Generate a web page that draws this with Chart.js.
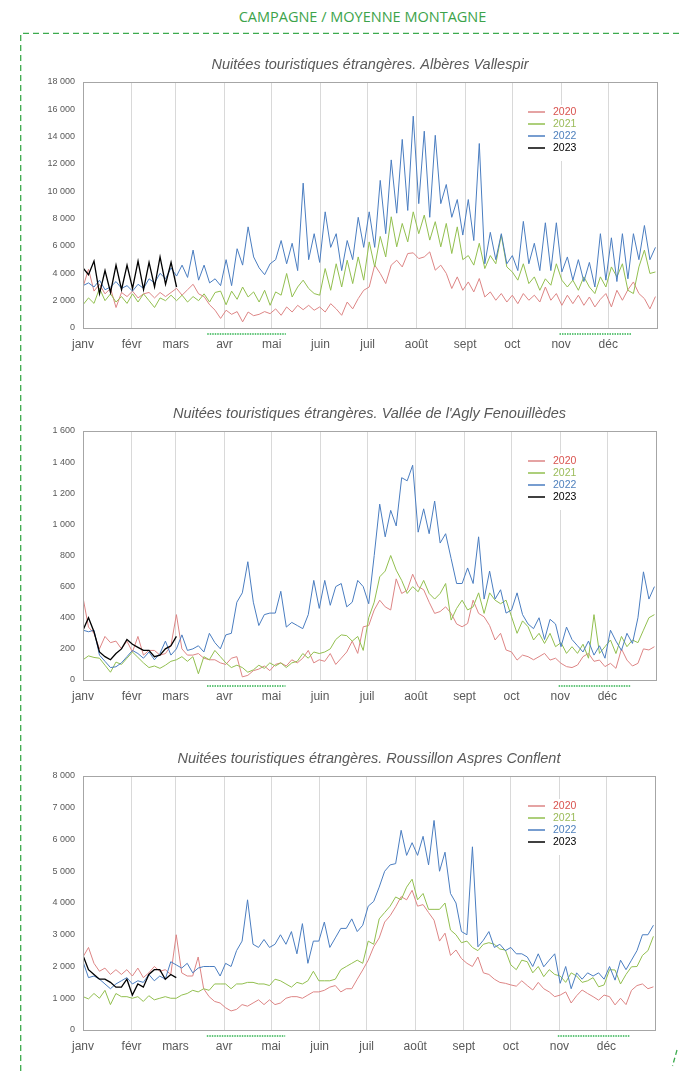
<!DOCTYPE html>
<html>
<head>
<meta charset="utf-8">
<script src="https://cdn.jsdelivr.net/npm/chart.js"></script>
<style>
  body { margin: 0; background: #fff; }
  #page { position: relative; width: 679px; height: 1071px; overflow: hidden; }
  #page canvas { position: absolute; left: 0; }
  #page svg { position: absolute; left: 0; top: 0; }
  #header { position: absolute; top: 7px; left: 0; width: 725px; text-align: center;
            font: 14.5px/20px "Open Sans", sans-serif; color: #3ca34a; }
</style>
</head>
<body>
<div id="page">
  <svg width="679" height="1071">
    <path d="M20.7 1071 V33.3 H679" fill="none" stroke="#3cab4e" stroke-width="1.3" stroke-dasharray="6 4"/>
    <path d="M677 1050 L672.5 1066" fill="none" stroke="#3cab4e" stroke-width="1.3" stroke-dasharray="5 3"/>
  </svg>
  <div id="header">CAMPAGNE / MOYENNE MONTAGNE</div>
  <canvas id="c1"></canvas>
  <canvas id="c2"></canvas>
  <canvas id="c3"></canvas>
</div>
<script>
// un point tous les 3,5 jours (jour de l'année)
const days = Array.from({length: 105}, (_, i) => i * 3.5);
const monthStarts = [0, 31, 59, 90, 120, 151, 181, 212, 243, 273, 304, 334];
const monthNames = ['janv', 'févr', 'mars', 'avr', 'mai', 'juin', 'juil', 'août', 'sept', 'oct', 'nov', 'déc'];
const years = ['2020', '2021', '2022', '2023'];
const holidays = [[79, 129], [303, 349]];

const lineColors = ['#dd8585', '#92bf4f', '#4a7dc0', '#000000'];
const textColors = ['#d9534f', '#9bbb59', '#4f81bd', '#000000'];

// Albères Vallespir
const alb2020 = [3000,4300,2700,3200,2500,2900,1500,2600,2300,2700,
  2200,2500,2600,2200,2600,2300,2600,2900,2400,2800,
  3200,2500,2300,1700,1300,700,1300,1000,1200,450,
  1170,900,1000,1200,1050,1400,930,1540,1170,1660,
  1340,1660,1300,1540,1170,1780,1400,930,1900,1400,
  2150,2760,3000,4600,3990,3250,4600,4960,4470,5450,
  5500,5080,5200,5570,4230,4600,4000,2890,3740,2760,
  3370,2640,3620,2270,2640,2030,2520,1900,2400,1780,
  2520,2030,2400,1900,3000,2030,2520,1660,2400,1780,
  2400,1660,2270,1540,2100,2520,1540,2760,2030,2800,
  3370,2520,2150,1400,2300];
const alb2021 = [1700,2200,1800,2900,2000,2500,1900,2300,1800,2500,
  1900,2500,2000,1500,2200,2000,2400,2000,2400,1900,
  2300,2000,2500,1900,2600,2700,1700,2700,2100,3000,
  2270,2640,1900,2760,1660,2640,2400,3990,2270,3000,
  3500,2890,2520,2400,4350,2760,4700,3000,4960,3250,
  5200,3500,6300,4470,6700,5200,8140,5940,7650,6300,
  8500,6900,8260,6430,7780,5940,7650,5450,7400,5000,
  5300,4600,6200,4350,5300,4700,6800,4470,4100,3500,
  4700,3250,3740,2760,3600,3130,4700,3500,3000,3500,
  2760,3740,3000,2520,3740,3000,4470,3740,4700,2760,
  2520,4470,5700,3990,4100];
const alb2022 = [3100,3300,3000,3500,2800,3000,3400,2900,3100,2700,
  3200,2900,3600,3300,4000,3600,4400,3800,4600,3700,
  5700,3500,4600,3300,3600,3100,5000,3100,5800,4600,
  7400,5200,4400,3900,4700,5000,6400,4700,6200,4200,
  10600,5000,6900,4800,8500,5900,6900,4200,6400,5000,
  8100,5900,8500,5900,10800,6900,12300,8400,13800,8600,
  15500,9100,14400,8100,14100,9100,10500,8100,9400,6800,
  9400,6400,13500,4700,7000,5000,6900,4700,5300,4200,
  7800,4700,6200,4200,7700,4200,7700,4100,5200,3500,
  5000,3400,4800,3000,6900,3500,6600,3400,6900,3600,
  6900,5000,7500,5000,5900];
const alb2023 = [4400,3900,4900,2500,4200,2600,4600,2800,4600,2900,4900,2800,4800,3000,5200,3200,4800,3000];

// Vallée de l'Agly Fenouillèdes
const agly2020 = [530,340,300,200,280,240,250,200,250,180,
  280,160,190,190,160,170,220,420,200,160,
  160,170,140,130,130,110,100,140,150,20,
  30,60,70,90,60,100,110,90,130,110,
  140,190,110,130,120,170,100,140,180,250,
  171,342,350,450,513,470,450,650,556,577,
  680,600,580,500,428,440,470,428,360,342,
  363,513,428,406,350,257,300,193,180,128,
  160,150,130,150,171,128,140,107,86,80,
  96,150,171,120,128,86,107,75,200,128,
  90,107,200,193,214];
const agly2021 = [130,155,145,140,95,50,115,100,140,180,
  145,110,80,90,75,95,120,130,150,120,
  150,40,150,130,190,150,110,80,95,80,
  50,65,95,75,110,90,110,80,110,120,
  170,140,180,170,180,200,260,290,285,250,
  280,190,400,500,663,700,800,706,640,556,
  600,567,640,556,520,556,620,385,460,513,
  450,470,560,428,560,513,490,513,406,300,
  380,342,257,300,235,300,214,240,171,214,
  171,230,140,420,171,214,257,170,280,214,
  257,240,320,400,420];
const agly2022 = [320,310,320,160,120,80,85,110,150,190,
  170,140,180,130,170,250,160,200,290,190,
  200,220,180,300,240,200,290,300,500,560,
  760,500,350,420,430,430,570,340,370,350,
  330,420,640,460,640,480,600,620,470,500,
  640,600,490,800,1130,920,1090,990,1300,1280,
  1380,950,1100,940,1150,880,940,780,620,620,
  720,620,920,520,700,520,580,430,450,560,
  420,360,330,400,260,390,360,214,340,260,
  220,180,250,160,220,140,320,250,190,300,
  235,400,695,520,600];
const agly2023 = [320,400,310,180,150,130,170,200,260,230,210,190,190,150,160,200,220,280];

// Roussillon Aspres Conflent
const rou2020 = [2300,2600,2100,1850,1950,1750,1900,1750,1900,1700,
  1950,1650,1800,2000,1850,1900,1750,3000,1800,1700,
  1700,2300,1300,1050,900,850,700,600,650,800,
  750,850,950,800,950,800,850,1000,1050,1050,
  1000,1100,1200,1200,1250,1350,1400,1200,1300,1300,
  1600,1890,2200,2620,2900,3400,3600,3880,4200,4100,
  4400,3900,3950,3700,3460,2800,3050,2350,2520,2250,
  2100,2000,2300,1800,1750,1600,1500,1470,1420,1380,
  1550,1400,1260,1500,1300,1200,1050,1100,1200,850,
  1080,1260,1150,1050,940,1100,1050,790,1000,800,
  1250,1400,1450,1300,1360];
const rou2021 = [1050,980,1150,1000,1250,800,1150,1050,1050,1000,
  1050,900,1080,950,1000,1050,1000,1000,1100,1150,
  1250,1200,1300,1250,1450,1450,1450,1300,1450,1450,
  1500,1500,1450,1450,1400,1600,1550,1450,1350,1500,
  1450,1550,1850,1550,1550,1550,1600,1900,2000,2100,
  2200,2100,2800,2700,3500,3700,3900,4190,4100,4500,
  4750,4100,4300,3800,3800,3800,4000,3150,3000,2750,
  2800,2600,2500,2700,2750,2700,2550,2520,2050,1900,
  2200,2150,1800,2000,1680,1900,1750,1700,1500,1800,
  1700,1500,1550,1650,1360,1420,1900,1890,1450,1750,
  1990,2000,2350,2500,2950];
const rou2022 = [2150,1650,1700,1600,1450,1300,1450,1550,1650,1450,
  1550,1500,1750,1550,1700,1600,2150,2050,1950,2100,
  1800,1950,2000,2000,2000,1700,2100,2000,2500,2800,
  4100,2700,2600,2850,2600,2700,3000,2700,3100,2400,
  3350,2100,2800,2800,3400,2600,2900,3200,3200,3500,
  3100,3300,3900,4050,4500,5000,5200,5240,6290,5500,
  5900,5500,6100,5200,6600,5000,5600,4300,4000,3100,
  3000,5770,2620,2830,3100,2600,2700,2500,2600,2400,
  2400,2300,2000,2400,1990,2200,2400,1470,2000,1300,
  1800,1600,1800,1700,1800,1600,2000,1570,2200,1900,
  2200,2500,3000,3000,3300];
const rou2023 = [2350,1900,1750,1600,1600,1500,1350,1350,1600,1100,1450,1350,1750,1900,1900,1600,1750,1650];

Chart.defaults.font.family = '"Liberation Sans", Arial, sans-serif';

function fmt(v) {
  return String(v).replace(/\B(?=(\d{3})+(?!\d))/g, ' ');
}

function decor(title) {
  return {
    id: 'decor',
    afterDraw(chart) {
      const ctx = chart.ctx, a = chart.chartArea, x = chart.scales.x;
      ctx.save();
      // cadre
      ctx.strokeStyle = '#a6a6a6';
      ctx.lineWidth = 1;
      ctx.strokeRect(Math.round(a.left) + 0.5, Math.round(a.top) + 0.5,
                     Math.round(a.right - a.left), Math.round(a.bottom - a.top));
      // titre
      ctx.fillStyle = '#595959';
      ctx.font = 'italic 14.5px "Liberation Sans", Arial';
      ctx.textAlign = 'center';
      ctx.textBaseline = 'middle';
      ctx.fillText(title, (a.left + a.right) / 2, a.top - 17.5);
      // vacances scolaires
      ctx.strokeStyle = '#2fb34f';
      ctx.lineWidth = 1.5;
      ctx.setLineDash([1.5, 1]);
      holidays.forEach(h => {
        ctx.beginPath();
        ctx.moveTo(x.getPixelForValue(h[0]), a.bottom + 6);
        ctx.lineTo(x.getPixelForValue(h[1]), a.bottom + 6);
        ctx.stroke();
      });
      ctx.setLineDash([]);
      // légende
      ctx.fillStyle = '#ffffff';
      ctx.fillRect(a.left + 439, a.top + 23, 62, 56);
      ctx.font = '10.5px "Liberation Sans", Arial';
      ctx.textAlign = 'left';
      chart.data.datasets.forEach((ds, k) => {
        const yy = a.top + 30 + k * 12;
        ctx.strokeStyle = ds.borderColor;
        ctx.lineWidth = 1.5;
        ctx.beginPath();
        ctx.moveTo(a.left + 445, yy);
        ctx.lineTo(a.left + 462, yy);
        ctx.stroke();
        ctx.fillStyle = textColors[k];
        ctx.fillText(ds.label, a.left + 470, yy);
      });
      ctx.restore();
    }
  };
}

function makeChart(id, title, yMax, yStep, series, box) {
  const canvas = document.getElementById(id);
  canvas.width = 679;
  canvas.height = box.bottom - box.top + 70;
  canvas.style.top = (box.top - 35) + 'px';
  new Chart(canvas, {
    type: 'line',
    data: {
      datasets: series.map((vals, k) => ({
        label: years[k],
        data: vals.map((v, i) => ({x: days[i], y: v})),
        borderColor: lineColors[k],
        borderWidth: k === 3 ? 1.3 : 1,
        pointRadius: 0,
        tension: 0,
        fill: false,
        order: 3 - k
      }))
    },
    options: {
      responsive: false,
      animation: false,
      events: [],
      layout: { padding: { top: 35, right: 679 - box.right, left: 0, bottom: 0 } },
      plugins: { legend: { display: false }, tooltip: { enabled: false } },
      scales: {
        x: {
          type: 'linear', min: 0, max: 365,
          afterBuildTicks: s => { s.ticks = monthStarts.map(v => ({value: v})); },
          afterFit: s => { s.height = 35; },
          grid: { color: '#d9d9d9', drawTicks: false },
          border: { display: false },
          ticks: {
            autoSkip: false, maxRotation: 0, padding: 9, color: '#595959',
            font: { size: 12 },
            callback: v => monthNames[monthStarts.indexOf(v)]
          }
        },
        y: {
          min: 0, max: yMax,
          afterFit: s => { s.width = 83; },
          grid: { display: false, drawTicks: false },
          border: { display: false },
          ticks: { stepSize: yStep, padding: 8, color: '#595959', font: { size: 9 }, callback: v => fmt(v) }
        }
      }
    },
    plugins: [decor(title)]
  });
}

makeChart('c1', 'Nuitées touristiques étrangères. Albères Vallespir', 18000, 2000,
  [alb2020, alb2021, alb2022, alb2023], {top: 82, bottom: 328, right: 657});
makeChart('c2', "Nuitées touristiques étrangères. Vallée de l'Agly Fenouillèdes", 1600, 200,
  [agly2020, agly2021, agly2022, agly2023], {top: 431, bottom: 680, right: 656});
makeChart('c3', 'Nuitées touristiques étrangères. Roussillon Aspres Conflent', 8000, 1000,
  [rou2020, rou2021, rou2022, rou2023], {top: 776, bottom: 1030, right: 655});
</script>
</body>
</html>
